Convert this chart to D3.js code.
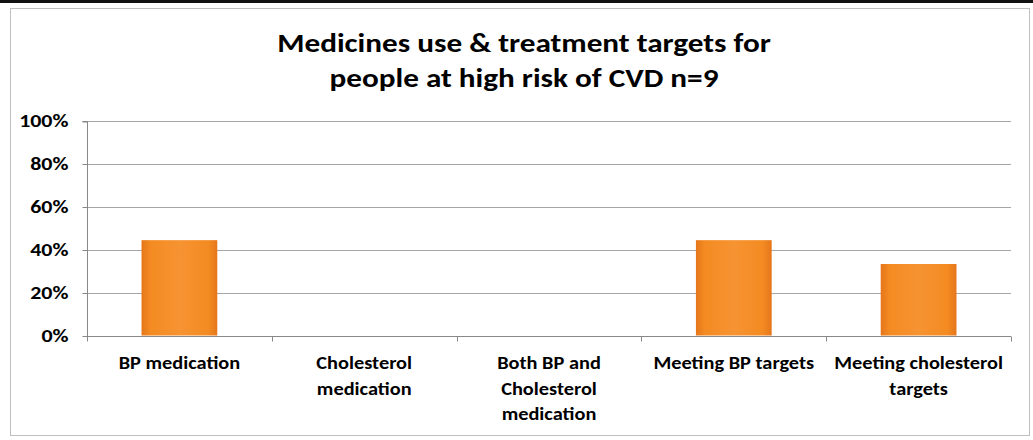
<!DOCTYPE html>
<html>
<head>
<meta charset="utf-8">
<script src="https://cdn.jsdelivr.net/npm/d3@7"></script>
<style>
  body { margin: 0; background: #fff; }
  text { font-family: Carlito, Calibri, "Liberation Sans Narrow", "Open Sans", sans-serif; font-weight: bold; fill: #000; }
</style>
</head>
<body>
<div id="chart"></div>
<script>
// data (n=9)
const categories = [
  ["BP medication"],
  ["Cholesterol", "medication"],
  ["Both BP and", "Cholesterol", "medication"],
  ["Meeting BP targets"],
  ["Meeting cholesterol", "targets"]
];
const values = [4 / 9, 0, 0, 4 / 9, 3 / 9];
const yTicks = [0, 0.2, 0.4, 0.6, 0.8, 1];
const titleLines = ["Medicines use & treatment targets for", "people at high risk of CVD n=9"];

function drawChart(containerId) {
  const W = 1033, H = 440;
  const margin = { top: 121, right: 22, bottom: 105, left: 87 },
        width = W - margin.left - margin.right,
        height = H - margin.top - margin.bottom + 0.5;

  d3.select(`#${containerId}`).html("");

  const root = d3.select(`#${containerId}`)
    .append("svg")
      .attr("width", W)
      .attr("height", H);

  // bar gradient
  const defs = root.append("defs");
  const grad = defs.append("linearGradient").attr("id", "barGrad")
    .attr("x1", 0).attr("x2", 1).attr("y1", 0).attr("y2", 0);
  grad.append("stop").attr("offset", "0%").attr("stop-color", "#E5761A");
  grad.append("stop").attr("offset", "12%").attr("stop-color", "#F48B22");
  grad.append("stop").attr("offset", "50%").attr("stop-color", "#F69332");
  grad.append("stop").attr("offset", "88%").attr("stop-color", "#F48B22");
  grad.append("stop").attr("offset", "100%").attr("stop-color", "#E5761A");

  // frame
  root.append("line")
    .attr("x1", 0).attr("x2", W).attr("y1", 1.5).attr("y2", 1.5)
    .attr("stroke", "#111").attr("stroke-width", 3);
  root.append("rect")
    .attr("x", 10.5).attr("y", 8.5).attr("width", 1019).attr("height", 427)
    .attr("fill", "none").attr("stroke", "#bfbfbf");

  // title (source text is stretched horizontally)
  root.append("g")
    .attr("transform", "translate(524,52) scale(1.2,1)")
    .append("text")
      .attr("text-anchor", "middle")
      .style("font-size", "26px")
      .selectAll("tspan")
      .data(titleLines)
      .join("tspan")
        .attr("x", 0)
        .attr("dy", (d, i) => i === 0 ? 0 : 35)
        .text(d => d);

  const svg = root.append("g")
    .attr("transform", `translate(${margin.left},${margin.top})`);

  const x = d3.scaleBand()
    .domain(d3.range(categories.length))
    .range([0, width])
    .paddingInner(0.59)
    .paddingOuter(0.295);

  const y = d3.scaleLinear()
    .domain([0, 1])
    .range([height, 0]);

  // gridlines
  svg.append("g")
    .selectAll("line")
    .data(yTicks.slice(1))
    .join("line")
      .attr("x1", 0).attr("x2", width)
      .attr("y1", d => Math.round(y(d)) + 0.5)
      .attr("y2", d => Math.round(y(d)) + 0.5)
      .attr("stroke", "#a6a6a6");

  // y axis
  const yAxis = svg.append("g")
    .attr("transform", "translate(0.5,0.5)")
    .call(d3.axisLeft(y).tickValues(yTicks).tickFormat(d3.format(".0%")).tickSize(5).tickPadding(13));
  yAxis.select(".domain").attr("stroke", "#888").attr("d", `M-5,0.5H0V${height}`);
  yAxis.selectAll(".tick line").attr("stroke", "#888");
  yAxis.selectAll(".tick").attr("transform", d => `translate(0,${Math.round(y(d))})`);
  yAxis.selectAll(".tick text")
    .attr("x", 0)
    .attr("transform", "translate(-19,0) scale(1.22,1)")
    .style("font-size", "18px");

  // bars
  svg.append("g")
    .selectAll("rect")
    .data(values)
    .join("rect")
      .attr("x", (d, i) => x(i))
      .attr("width", x.bandwidth())
      .attr("y", d => y(d))
      .attr("height", d => height - y(d))
      .attr("fill", "url(#barGrad)");

  // x axis
  const xAxisG = svg.append("g").attr("transform", `translate(0,${Math.round(height) + 0.5})`);
  xAxisG.append("line")
    .attr("x1", 0).attr("x2", width)
    .attr("stroke", "#888");
  xAxisG.selectAll(".xtick")
    .data(d3.range(categories.length + 1))
    .join("line")
      .attr("class", "xtick")
      .attr("x1", i => Math.round(i * (width / categories.length)) + 0.5)
      .attr("x2", i => Math.round(i * (width / categories.length)) + 0.5)
      .attr("y1", 0).attr("y2", 5)
      .attr("stroke", "#888");

  xAxisG.selectAll(".xlabel")
    .data(categories)
    .join("g")
      .attr("class", "xlabel")
      .attr("transform", (d, i) => `translate(${x(i) + x.bandwidth() / 2},0) scale(1.1,1)`)
    .append("text")
      .attr("text-anchor", "middle")
      .style("font-size", "18.5px")
      .selectAll("tspan")
      .data(d => d)
      .join("tspan")
        .attr("x", 0)
        .attr("y", (d, j) => 33 + j * 25.5)
        .text(d => d);
}

document.addEventListener("DOMContentLoaded", function () {
  drawChart("chart");
});
</script>
</body>
</html>
